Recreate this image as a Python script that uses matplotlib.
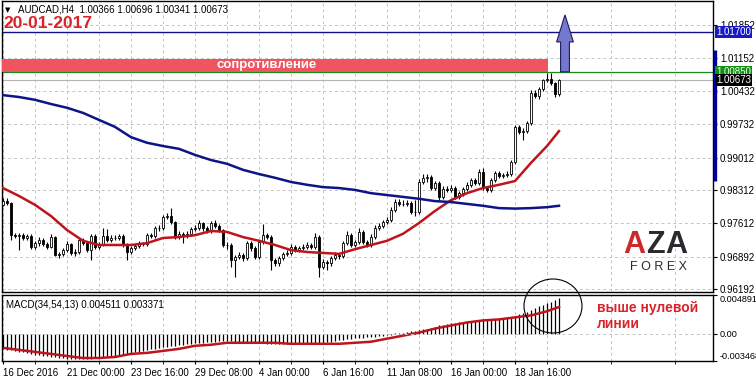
import numpy as np
import matplotlib.pyplot as plt
from matplotlib.patches import Rectangle, Ellipse, Polygon
from matplotlib.transforms import blended_transform_factory

plt.rcParams['font.family'] = ['Liberation Sans', 'DejaVu Sans']

# AUDCAD H4 candles (open of each bar = previous close)
first_open = 0.9800
close = [
    0.9808, 0.9804, 0.9735, 0.9733, 0.9735, 0.9729, 0.9733, 0.9710,
    0.9718, 0.9725, 0.9716, 0.9710, 0.9731, 0.9693, 0.9695, 0.9703,
    0.9716, 0.9697, 0.9699, 0.9725, 0.9718, 0.9703, 0.9733, 0.9710,
    0.9714, 0.9733, 0.9725, 0.9729, 0.9729, 0.9733, 0.9714, 0.9699,
    0.9708, 0.9712, 0.9718, 0.9716, 0.9735, 0.9733, 0.9750, 0.9750,
    0.9774, 0.9776, 0.9763, 0.9731, 0.9738, 0.9733, 0.9738, 0.9748,
    0.9750, 0.9761, 0.9750, 0.9744, 0.9761, 0.9755, 0.9746, 0.9714,
    0.9714, 0.9682, 0.9688, 0.9693, 0.9686, 0.9718, 0.9708, 0.9688,
    0.9720, 0.9735, 0.9731, 0.9682, 0.9675, 0.9686, 0.9695, 0.9697,
    0.9710, 0.9703, 0.9708, 0.9710, 0.9714, 0.9710, 0.9731, 0.9667,
    0.9678, 0.9675, 0.9686, 0.9693, 0.9690, 0.9718, 0.9735, 0.9714,
    0.9720, 0.9742, 0.9720, 0.9714, 0.9731, 0.9750, 0.9755, 0.9763,
    0.9768, 0.9789, 0.9806, 0.9802, 0.9802, 0.9804, 0.9785, 0.9785,
    0.9849, 0.9858, 0.9860, 0.9836, 0.9847, 0.9817, 0.9834, 0.9832,
    0.9836, 0.9817, 0.9825, 0.9834, 0.9843, 0.9853, 0.9847, 0.9870,
    0.9836, 0.9832, 0.9853, 0.9868, 0.9862, 0.9864, 0.9866, 0.9892,
    0.9967, 0.9956, 0.9958, 0.9975, 1.0040, 1.0033, 1.0048, 1.0067,
    1.0070, 1.0061, 1.00366, 1.00673,
]
high = [
    0.9814, 0.9815, 0.9806, 0.9740, 0.9739, 0.9740, 0.9738, 0.9737,
    0.9722, 0.9731, 0.9728, 0.9720, 0.9738, 0.9733, 0.9700, 0.9707,
    0.9722, 0.9719, 0.9705, 0.9729, 0.9729, 0.9722, 0.9737, 0.9737,
    0.9720, 0.9750, 0.9748, 0.9735, 0.9735, 0.9738, 0.9737, 0.9718,
    0.9712, 0.9716, 0.9722, 0.9721, 0.9739, 0.9740, 0.9755, 0.9757,
    0.9778, 0.9782, 0.9793, 0.9766, 0.9744, 0.9742, 0.9743, 0.9753,
    0.9757, 0.9767, 0.9764, 0.9755, 0.9766, 0.9768, 0.9760, 0.9749,
    0.9721, 0.9718, 0.9692, 0.9698, 0.9697, 0.9722, 0.9722, 0.9712,
    0.9724, 0.9759, 0.9740, 0.9735, 0.9687, 0.9690, 0.9700, 0.9703,
    0.9716, 0.9714, 0.9712, 0.9716, 0.9720, 0.9718, 0.9740, 0.9735,
    0.9684, 0.9682, 0.9690, 0.9698, 0.9697, 0.9722, 0.9745, 0.9739,
    0.9725, 0.9750, 0.9746, 0.9724, 0.9737, 0.9756, 0.9761, 0.9768,
    0.9773, 0.9795, 0.9812, 0.9812, 0.9810, 0.9811, 0.9808, 0.9811,
    0.9855, 0.9866, 0.9866, 0.9864, 0.9852, 0.9852, 0.9840, 0.9840,
    0.9842, 0.9840, 0.9830, 0.9838, 0.9848, 0.9858, 0.9858, 0.9876,
    0.9879, 0.9840, 0.9858, 0.9873, 0.9872, 0.9869, 0.9872, 0.9897,
    0.9972, 0.9972, 0.9964, 0.9980, 1.0045, 1.0046, 1.0052, 1.0070,
    1.0082, 1.0082, 1.0064, 1.00696,
]
low = [
    0.9797, 0.9799, 0.9725, 0.9728, 0.9703, 0.9724, 0.9725, 0.9706,
    0.9705, 0.9712, 0.9711, 0.9706, 0.9707, 0.9690, 0.9686, 0.9690,
    0.9699, 0.9693, 0.9690, 0.9695, 0.9713, 0.9699, 0.9682, 0.9706,
    0.9705, 0.9711, 0.9720, 0.9721, 0.9724, 0.9725, 0.9709, 0.9682,
    0.9694, 0.9703, 0.9708, 0.9711, 0.9712, 0.9729, 0.9729, 0.9745,
    0.9747, 0.9770, 0.9759, 0.9727, 0.9726, 0.9718, 0.9729, 0.9734,
    0.9744, 0.9746, 0.9745, 0.9739, 0.9740, 0.9750, 0.9741, 0.9709,
    0.9706, 0.9667, 0.9645, 0.9683, 0.9680, 0.9682, 0.9702, 0.9683,
    0.9684, 0.9716, 0.9726, 0.9660, 0.9668, 0.9670, 0.9681, 0.9690,
    0.9693, 0.9698, 0.9699, 0.9703, 0.9706, 0.9705, 0.9706, 0.9645,
    0.9662, 0.9660, 0.9670, 0.9682, 0.9685, 0.9687, 0.9714, 0.9709,
    0.9710, 0.9716, 0.9716, 0.9709, 0.9710, 0.9727, 0.9746, 0.9750,
    0.9759, 0.9764, 0.9785, 0.9797, 0.9797, 0.9798, 0.9780, 0.9776,
    0.9781, 0.9844, 0.9850, 0.9831, 0.9832, 0.9810, 0.9813, 0.9827,
    0.9828, 0.9812, 0.9813, 0.9820, 0.9830, 0.9839, 0.9843, 0.9843,
    0.9831, 0.9827, 0.9828, 0.9849, 0.9858, 0.9858, 0.9860, 0.9862,
    0.9888, 0.9951, 0.9938, 0.9953, 0.9970, 1.0028, 1.0026, 1.0043,
    1.0063, 1.0057, 1.0030, 1.00341,
]

# moving averages read every 4 bars
ma_bars = list(range(0, 137, 4)) + [139]
ma_fast = [0.9836, 0.9819, 0.9800, 0.9776, 0.9746, 0.9723, 0.9714, 0.9714,
           0.9714, 0.9718, 0.9729, 0.9731, 0.9735, 0.9744, 0.9742, 0.9731,
           0.9723, 0.9714, 0.9703, 0.9699, 0.9697, 0.9695, 0.9705, 0.9714,
           0.9723, 0.9738, 0.9761, 0.9787, 0.9810, 0.9825, 0.9836, 0.9843,
           0.9851, 0.9890, 0.9926, 0.9958]
ma_slow = [1.0035, 1.0031, 1.0025, 1.0016, 1.0008, 0.9997, 0.9982, 0.9967,
           0.9945, 0.9933, 0.9926, 0.9920, 0.9907, 0.9896, 0.9888, 0.9875,
           0.9866, 0.9858, 0.9849, 0.9843, 0.9838, 0.9836, 0.9832, 0.9825,
           0.9821, 0.9817, 0.9813, 0.9808, 0.9806, 0.9802, 0.9798, 0.9793,
           0.9792, 0.9793, 0.9795, 0.9798]

# MACD(34,54,13)
macd_main = [
    -0.00193, -0.00206, -0.00206, -0.00219, -0.00231, -0.00231, -0.00244, -0.00257,
    -0.00270, -0.00270, -0.00283, -0.00283, -0.00296, -0.00296, -0.00309, -0.00309,
    -0.00322, -0.00322, -0.00322, -0.00322, -0.00322, -0.00322, -0.00322, -0.00309,
    -0.00309, -0.00309, -0.00296, -0.00296, -0.00283, -0.00270, -0.00270, -0.00257,
    -0.00244, -0.00231, -0.00231, -0.00219, -0.00206, -0.00193, -0.00193, -0.00180,
    -0.00167, -0.00167, -0.00154, -0.00154, -0.00141, -0.00141, -0.00129, -0.00129,
    -0.00116, -0.00116, -0.00116, -0.00103, -0.00103, -0.00103, -0.00090, -0.00090,
    -0.00090, -0.00090, -0.00103, -0.00103, -0.00103, -0.00103, -0.00116, -0.00116,
    -0.00116, -0.00116, -0.00129, -0.00129, -0.00129, -0.00129, -0.00129, -0.00129,
    -0.00129, -0.00129, -0.00129, -0.00129, -0.00129, -0.00129, -0.00116, -0.00116,
    -0.00116, -0.00103, -0.00103, -0.00090, -0.00077, -0.00077, -0.00064, -0.00064,
    -0.00051, -0.00051, -0.00051, -0.00039, -0.00039, -0.00039, -0.00026, -0.00026,
    -0.00013, -0.00013, 0.00002, 0.00004, 0.00013, 0.00026, 0.00039, 0.00039,
    0.00051, 0.00064, 0.00064, 0.00077, 0.00090, 0.00103, 0.00103, 0.00116,
    0.00129, 0.00129, 0.00141, 0.00141, 0.00154, 0.00154, 0.00154, 0.00167,
    0.00167, 0.00167, 0.00167, 0.00180, 0.00180, 0.00180, 0.00193, 0.00193,
    0.00219, 0.00244, 0.00257, 0.00270, 0.00296, 0.00322, 0.00347, 0.00360,
    0.00386, 0.00399, 0.00424, 0.004511,
]
macd_signal = [-0.00180, -0.00206, -0.00231, -0.00257, -0.00283, -0.00309, -0.00309, -0.00296,
               -0.00257, -0.00244, -0.00219, -0.00193, -0.00154, -0.00141, -0.00116, -0.00116,
               -0.00116, -0.00116, -0.00129, -0.00129, -0.00129, -0.00129, -0.00116, -0.00103,
               -0.00064, -0.00026, 0.00013, 0.00064, 0.00103, 0.00141, 0.00167, 0.00180,
               0.00206, 0.00231, 0.00283, 0.003371]

price_ticks = [0.96192, 0.96892, 0.97612, 0.98312, 0.99012, 0.99732, 1.00432, 1.01152, 1.01852]
date_bars = [0, 16, 32, 48, 64, 80, 96, 112, 128]
date_labels = ['16 Dec 2016', '21 Dec 00:00', '23 Dec 16:00', '29 Dec 08:00', '4 Jan 00:00',
               '6 Jan 16:00', '11 Jan 08:00', '16 Jan 00:00', '18 Jan 16:00']

resist_lo, resist_hi = 1.00850, 1.0113
target = 1.01700
last_price = 1.00673
arrow_tip = 1.0207
arrow_neck = 1.0149

W, H = 756, 382
fig = plt.figure(figsize=(W / 100, H / 100), dpi=100)


def px(l, t, r, b):
    return [l / W, 1 - b / H, (r - l) / W, (b - t) / H]


ax = fig.add_axes(px(2, 1, 713, 292))
ax2 = fig.add_axes(px(2, 295, 713, 361), sharex=ax)

c = np.array(close)
o = np.r_[first_open, c[:-1]]
idx = np.arange(len(c))
up = c >= o

grid_kw = dict(color='#c4c4c4', lw=0.7, ls=(0, (3, 3)))

# candles
ax.vlines(idx, low, high, color='black', lw=0.8, zorder=3)
ax.bar(idx, np.maximum(np.abs(c - o), 0.00003), bottom=np.minimum(o, c), width=0.62,
       color=np.where(up, 'white', 'black'), edgecolor='black', lw=0.6, zorder=4)

ax.plot(ma_bars, ma_fast, color='#c0141c', lw=1.8, zorder=5)
ax.plot(ma_bars, ma_slow, color='#0c1488', lw=1.8, zorder=5)

ax.set_xlim(-0.25, 177.5)
ax.set_ylim(0.96133, 1.02367)

# levels
ax.axhline(last_price, color='#b4b4b4', lw=0.8, zorder=2)
ax.axhline(resist_lo, color='#1a8a1a', lw=0.9, zorder=2)
ax.axhline(target, color='#10108a', lw=1.0, zorder=2)
ax.add_patch(Rectangle((-0.25, resist_lo), 136.5, resist_hi - resist_lo,
                       facecolor='#f0545e', edgecolor='none', zorder=6))
ax.text(66, (resist_lo + resist_hi) / 2, 'сопротивление', color='white', fontsize=9.5,
        fontweight='bold', ha='center', va='center', zorder=7)

cx = 140.5
ax.add_patch(Polygon([(cx - 1.1, resist_lo), (cx + 1.1, resist_lo), (cx + 1.1, arrow_neck),
                      (cx + 2.1, arrow_neck), (cx, arrow_tip), (cx - 2.1, arrow_neck),
                      (cx - 1.1, arrow_neck)], closed=True, facecolor='#7479cf',
                     edgecolor='#1c1c5c', lw=0.8, zorder=7))

ax.set_yticks(price_ticks)
ax.set_yticklabels([f'{v:.5f}' for v in price_ticks])
ax.yaxis.tick_right()
ax.tick_params(axis='y', labelsize=7, length=3, pad=2)
ax.tick_params(axis='x', length=0, labelbottom=False)
ax.set_xticks(date_bars)
ax.set_xticks(range(8, 177, 16), minor=True)
ax.tick_params(axis='x', which='minor', length=0)
ax.grid(True, which='both', **grid_kw)
ax.set_axisbelow(True)

ytr = blended_transform_factory(ax.transAxes, ax.transData)
box_kw = dict(transform=ytr, ha='left', va='center', fontsize=7, clip_on=False, zorder=10)
ax.text(1.004, target, '1.01700', color='white',
        bbox=dict(boxstyle='square,pad=0.12', fc='#1818c8', ec='none'), **box_kw)
ax.text(1.004, resist_lo, '1.00850', color='#e8ffe8',
        bbox=dict(boxstyle='square,pad=0.12', fc='#129012', ec='none'), **box_kw)
ax.text(1.004, last_price, '1.00673', color='white',
        bbox=dict(boxstyle='square,pad=0.12', fc='black', ec='none'), **box_kw)
ax.plot([1.0025, 1.0025], [1.01317, 0.98511], transform=ytr, color='#0000a0', lw=2.4,
        solid_capstyle='butt', clip_on=False, zorder=9)

# header
fig.text(5 / W, 1 - 10 / H, '▼', fontsize=5, va='center', family=['DejaVu Sans'])
fig.text(18 / W, 1 - 10 / H, 'AUDCAD,H4  1.00366 1.00696 1.00341 1.00673', fontsize=7,
         va='center')
fig.text(3 / W, 1 - 24 / H, '20-01-2017', fontsize=12.5, color='#d8232a', va='center',
         fontweight='bold')

# MACD panel
ax2.vlines(idx, 0, macd_main, color='black', lw=0.9)
ax2.plot(ma_bars, macd_signal, color='#c0141c', lw=1.8)
ax2.set_ylim(-0.003468, 0.004891)
ax2.axhline(0, **grid_kw)
ax2.grid(True, axis='x', which='both', **grid_kw)
ax2.set_axisbelow(True)
ax2.yaxis.tick_right()
ax2.set_yticks([-0.003468, 0, 0.004891])
ax2.set_yticklabels(['-0.003468', '0.00', '0.004891'])
ax2.tick_params(axis='y', labelsize=6.6, length=3, pad=2)
ylabs = ax2.get_yticklabels()
ylabs[0].set_va('bottom')
ylabs[-1].set_va('top')
ax2.set_xticks(date_bars)
ax2.set_xticklabels(date_labels)
ax2.tick_params(axis='x', labelsize=7, length=2, pad=3)
for lab in ax2.get_xticklabels():
    lab.set_ha('left')
ax2.text(0.005, 0.93, 'MACD(34,54,13) 0.004511 0.003371', transform=ax2.transAxes,
         fontsize=7, va='top')

for a in (ax, ax2):
    for s in a.spines.values():
        s.set_linewidth(1.0)

# annotations
fig.add_artist(Ellipse((553 / W, 1 - 306 / H), 58 / W, 54 / H, transform=fig.transFigure,
                       fill=False, ec='black', lw=0.8))
fig.text(597 / W, 1 - 308 / H, 'выше нулевой', fontsize=10, fontweight='bold',
         color='#d8232a', va='center')
fig.text(597 / W, 1 - 324 / H, 'линии', fontsize=10, fontweight='bold',
         color='#d8232a', va='center')

# logo
for ch, x, col in [('A', 634, '#cc2a2a'), ('Z', 655, '#2a2a2e'), ('A', 676, '#2a2a2e')]:
    fig.text(x / W, 1 - 245 / H, ch, fontsize=22, fontweight='bold', color=col,
             ha='center', va='center')
fig.text(659 / W, 1 - 267 / H, 'F O R E X', fontsize=9, color='#2a2a2e',
         ha='center', va='center')

fig.savefig('out.png', dpi=100)
